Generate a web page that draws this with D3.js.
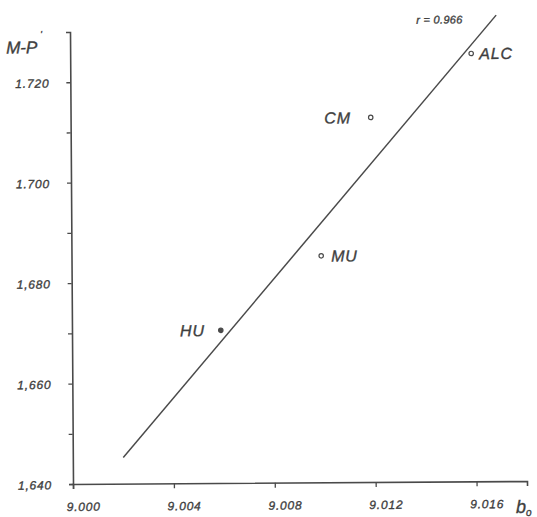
<!DOCTYPE html>
<html>
<head>
<meta charset="utf-8">
<script src="https://cdn.jsdelivr.net/npm/d3@7"></script>
<style>
  html, body { margin: 0; padding: 0; background: #fff; }
  svg { display: block; }
  text { font-family: "Liberation Sans", Arial, sans-serif; font-style: italic; fill: #3e3e3e; stroke: #3e3e3e; stroke-width: 0.35px; }
</style>
</head>
<body>
<svg id="chart" width="537" height="517"></svg>
<script>
// Samples: b0 (x) against M-P' (y)
const names = ["HU", "MU", "CM", "ALC"];
const bValues = [9.0059, 9.0099, 9.0119, 9.0159];
const mpValues = [1.6704, 1.6851, 1.7126, 1.7252];
const filled = [true, false, false, false];

// Fitted line end points (r = 0.966)
const fitX = [9.0020, 9.0169];
const fitY = [1.6452, 1.7328];

// Axis ticks and their labels
const xTicks = [9.000, 9.004, 9.008, 9.012, 9.016];
const xTickLabels = ["9.000", "9.004", "9.008", "9.012", "9.016"];
const yTicks = [1.640, 1.650, 1.660, 1.670, 1.680, 1.690, 1.700, 1.710, 1.720];
const yTickLabels = ["1,640", "", "1,660", "", "1,680", "", "1.700", "", "1.720"];

const ink = "#4a4a4a";
const svg = d3.select("#chart");

const x = d3.scaleLinear().domain([9.000, 9.018]).range([73, 527]);
const y = d3.scaleLinear().domain([1.640, 1.730]).range([484, 32]);

// whole drawing sits slightly tilted on the page
const g = svg.append("g").attr("transform", "rotate(-0.38, 73, 484)");

function styleTickText(sel) {
  sel.attr("font-size", 12).attr("letter-spacing", 0.8)
    .style("font-family", "'Liberation Sans', Arial, sans-serif")
    .style("font-style", "italic")
    .attr("fill", "#3e3e3e").attr("stroke", "#3e3e3e").attr("stroke-width", 0.3);
}

// x axis
const xAxis = d3.axisBottom(x)
  .tickValues(xTicks)
  .tickSize(5)
  .tickFormat((d, i) => xTickLabels[i]);
const gx = g.append("g").attr("transform", "translate(0,484)").call(xAxis);
gx.select(".domain").attr("stroke", ink).attr("stroke-width", 1.6);
gx.selectAll(".tick line").attr("stroke", ink).attr("stroke-width", 1.3);
gx.selectAll(".tick text").attr("dx", 10).attr("y", 0).attr("dy", 27).call(styleTickText);

// y axis
const yAxis = d3.axisLeft(y)
  .tickValues(yTicks)
  .tickSize(4)
  .tickFormat((d, i) => yTickLabels[i]);
const gy = g.append("g").attr("transform", "translate(73,0)").call(yAxis);
gy.select(".domain").attr("stroke", ink).attr("stroke-width", 1.6);
gy.selectAll(".tick line").attr("stroke", ink).attr("stroke-width", 1.3);
gy.selectAll(".tick text").attr("x", -21).attr("dy", "0.4em").call(styleTickText);

// axis titles
const yTitle = g.append("text").attr("x", 9).attr("y", 53).attr("font-size", 17);
yTitle.append("tspan").text("M-P");
yTitle.append("tspan").attr("font-size", 9).attr("dy", -16).attr("dx", 3).text("'");

const xTitle = svg.append("text").attr("x", 516).attr("y", 513).attr("font-size", 18);
xTitle.append("tspan").text("b");
xTitle.append("tspan").attr("font-size", 10).attr("dy", 3).text("o");

// fitted line
g.append("line")
  .attr("x1", x(fitX[0])).attr("y1", y(fitY[0]))
  .attr("x2", x(fitX[1])).attr("y2", y(fitY[1]))
  .attr("stroke", ink).attr("stroke-width", 1.5);

g.append("text")
  .attr("x", x(fitX[1]) - 80).attr("y", y(fitY[1]) + 8)
  .attr("font-size", 11).attr("letter-spacing", 0.3)
  .text("r = 0.966");

// sample points
const pts = names.map((n, i) => ({ name: n, b: bValues[i], mp: mpValues[i], filled: filled[i] }));
g.selectAll("circle.pt").data(pts).enter().append("circle")
  .attr("class", "pt")
  .attr("cx", d => x(d.b)).attr("cy", d => y(d.mp))
  .attr("r", 2.2)
  .attr("fill", d => d.filled ? ink : "#fff")
  .attr("stroke", ink).attr("stroke-width", 1.2);

// labels: some sit to the right of their point, some to the left
const labelSide = { HU: "left", MU: "right", CM: "left", ALC: "right" };
const labelGap = { HU: 16, MU: 10, CM: 20, ALC: 8 };
g.selectAll("text.lbl").data(pts).enter().append("text")
  .attr("class", "lbl")
  .attr("x", d => labelSide[d.name] === "right" ? x(d.b) + labelGap[d.name] : x(d.b) - labelGap[d.name])
  .attr("y", d => y(d.mp))
  .attr("dy", "0.36em")
  .attr("text-anchor", d => labelSide[d.name] === "right" ? "start" : "end")
  .attr("font-size", 16).attr("letter-spacing", 0.8)
  .text(d => d.name);
</script>
</body>
</html>
